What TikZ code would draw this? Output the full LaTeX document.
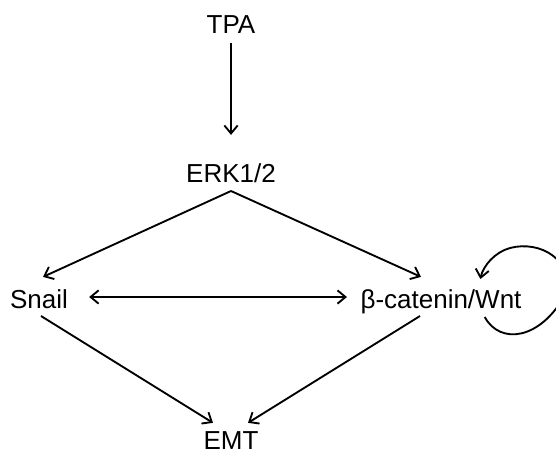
\documentclass[tikz,border=0pt]{standalone}
\usepackage{fontspec}
\setmainfont{Liberation Sans}
\usetikzlibrary{arrows.meta}

\begin{document}
\begin{tikzpicture}[x=0.75pt,y=-0.75pt,
    >={Straight Barb[length=6pt,width=10pt]},
    lbl/.style={inner sep=0pt,anchor=base,font=\fontsize{19.5}{23}\selectfont},
    act/.style={line width=1.4pt,->}]
    \useasboundingbox (0,0) rectangle (556,454);

    % Labels
    \node[lbl] (tpa)   at (231,33)  {TPA};
    \node[lbl] (erk)   at (231,182) {ERK1/2};
    \node[lbl] (snail) at (39,308)  {Snail};
    \node[lbl] (beta)  at (441,308) {β-catenin/Wnt};
    \node[lbl] (emt)   at (231,449) {EMT};

    % TPA -> ERK1/2
    \draw[act] ([yshift=-7.5pt]tpa.base) -- ([yshift=21pt]erk.north);

    % ERK1/2 -> Snail, beta-catenin
    \draw[act] ([yshift=-6.75pt]erk.base) -- ([shift={(3pt,9pt)}]snail.north);
    \draw[act] ([yshift=-6.75pt]erk.base) -- ([shift={(-15pt,9pt)}]beta.north);

    % Snail <-> beta-catenin
    \draw[act,<->] ([shift={(15.75pt,8.25pt)}]snail.base east)
        -- ([shift={(-10pt,8.25pt)}]beta.base west);

    % Both -> EMT
    \draw[act] ([shift={(1.5pt,-6pt)}]snail.base) -- ([shift={(-13.5pt,6pt)}]emt.north);
    \draw[act] ([shift={(-15.75pt,-6pt)}]beta.base) -- ([shift={(12.75pt,6pt)}]emt.north);

    % Self loop on beta-catenin/Wnt
    \draw[act] ([shift={(-27.75pt,-6.75pt)}]beta.base east)
        .. controls (500,345) and (540,340) .. (565,295)
        .. controls (575,260) and (540,240) .. (510,248)
        .. controls (495,252) and (483,266) .. ([shift={(-31pt,21.75pt)}]beta.base east);
\end{tikzpicture}
\end{document}
